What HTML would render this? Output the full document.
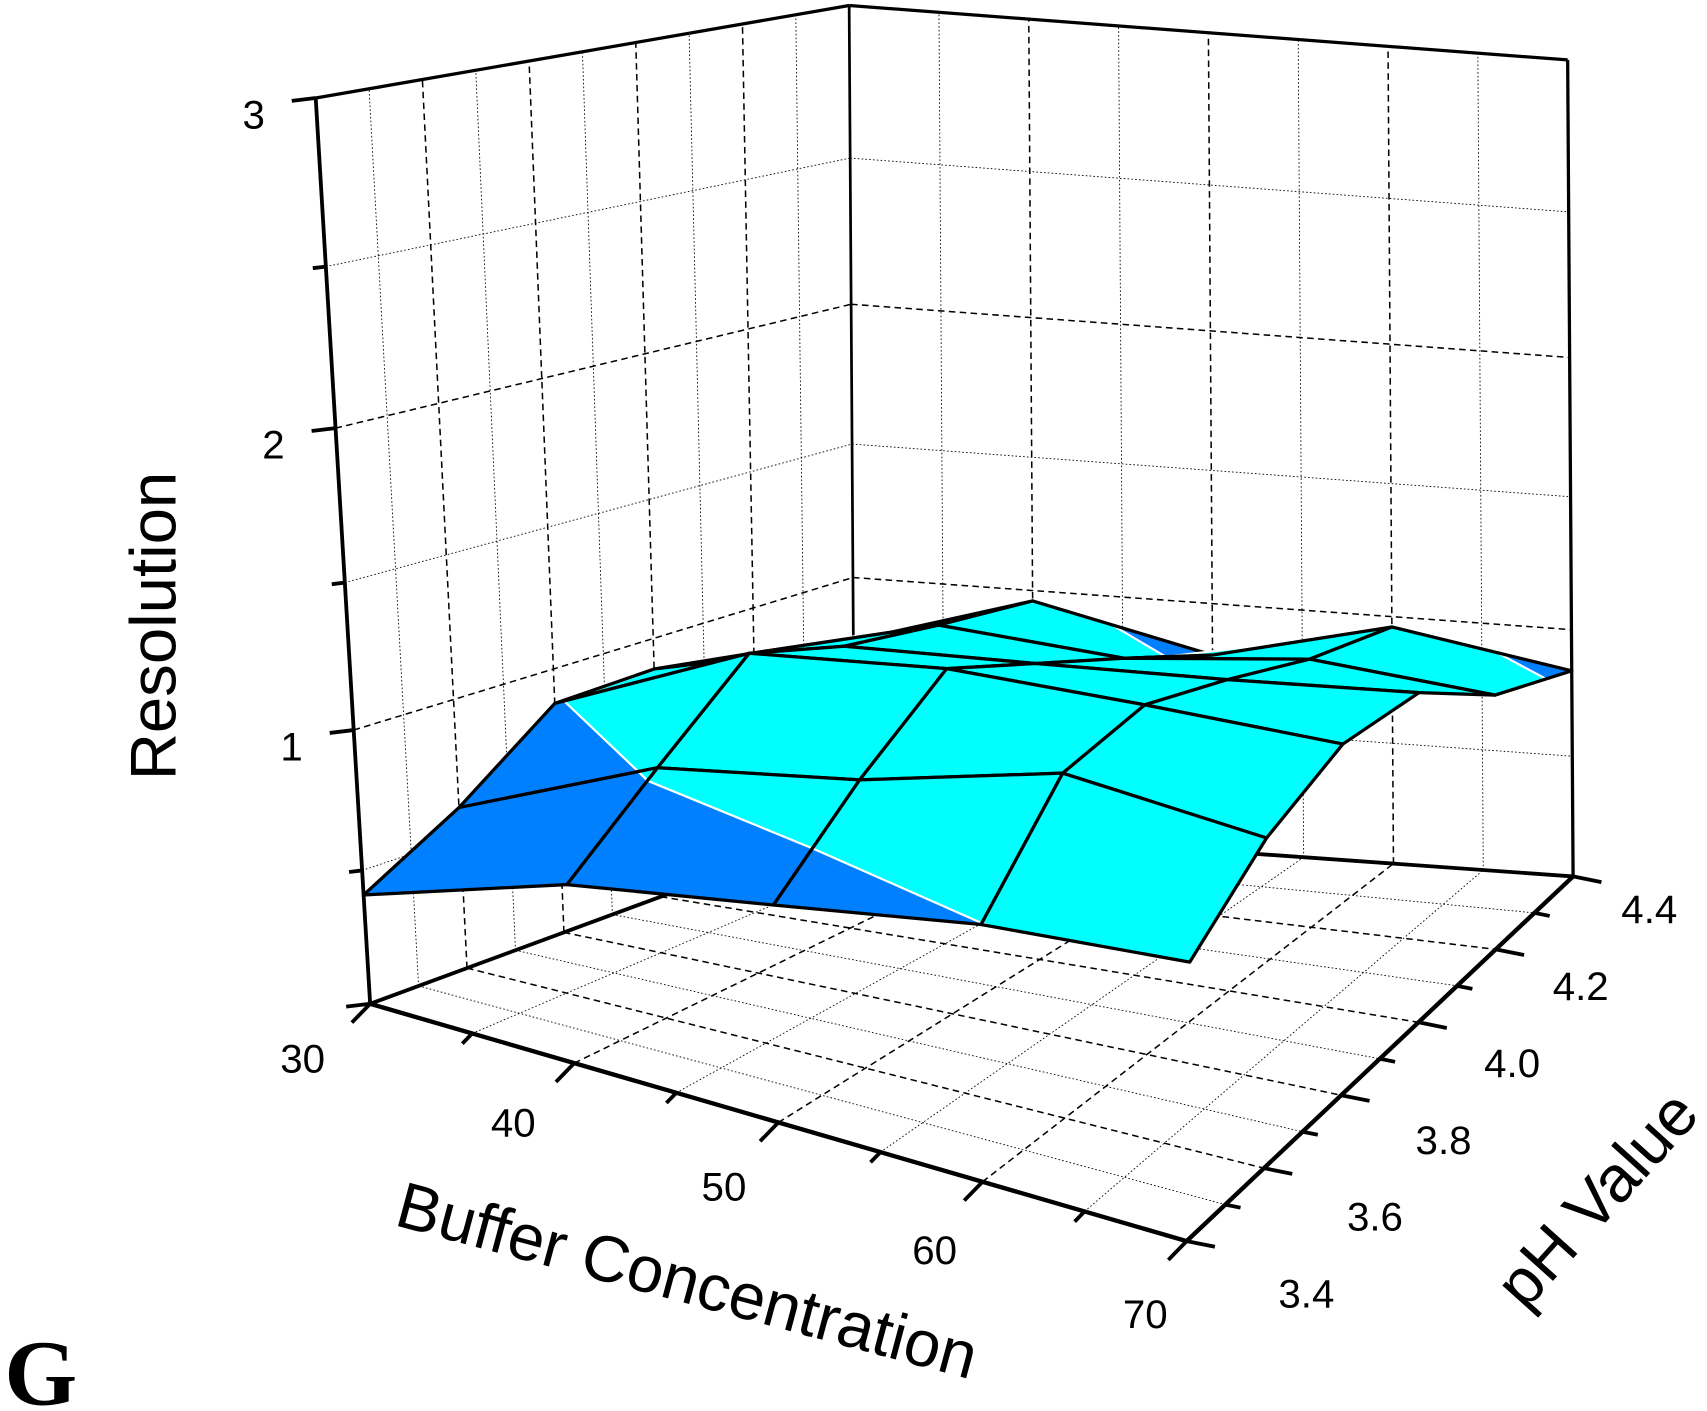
<!DOCTYPE html>
<html><head><meta charset="utf-8"><title>Resolution surface</title>
<style>html,body{margin:0;padding:0;background:#fff;}svg{display:block;}</style></head>
<body>
<svg id="chart" width="1707" height="1411" viewBox="0 0 1568 1296" xmlns="http://www.w3.org/2000/svg" font-family="'Liberation Sans', sans-serif">
<g id="walls"></g>
<g id="surface"></g>
<g id="axes"></g>
<text x="0" y="0" font-size="60" text-anchor="middle" transform="translate(161,575) rotate(-90)">Resolution</text>
<text x="0" y="0" font-size="60" text-anchor="middle" transform="translate(626,1196) rotate(15)">Buffer Concentration</text>
<text x="0" y="0" font-size="60" text-anchor="middle" transform="translate(1482,1115) rotate(-48)">pH Value</text>
<text x="4" y="1290" font-size="86" font-weight="bold" font-family="'Liberation Serif', serif">G</text>
</svg>
<script>
const buffers = [30, 40, 50, 60, 70];
const phValues = [3.4, 3.6, 3.8, 4.0, 4.2, 4.4];
const res30 = [0.41, 0.61, 0.875, 0.887, 0.83, 0.755];
const res40 = [0.65, 0.92, 1.187, 1.078, 1.015, 0.96];
const res50 = [0.77, 1.035, 1.26, 1.12, 0.97, 0.80];
const res60 = [0.887, 1.207, 1.26, 1.165, 1.045, 0.96];
const res70 = [0.94, 1.14, 1.25, 1.22, 0.99, 0.84];
const zTickLabels = ['1', '2', '3'];
const bufferTickLabels = ['30', '40', '50', '60', '70'];
const phTickLabels = ['3.4', '3.6', '3.8', '4.0', '4.2', '4.4'];

const resolution = [res30, res40, res50, res60, res70];
const NS = 'http://www.w3.org/2000/svg';
const C = {FL0:[340,922],FR0:[1090,1140],BR0:[1445,805],BL0:[785,758],
           FL1:[290,90],FR1:[1100,235],BR1:[1440,55],BL1:[780,5]};
const BMIN=30,BMAX=70,PMIN=3.4,PMAX=4.4,ZMAX=3;
function lerp(a,b,t){return [a[0]+(b[0]-a[0])*t,a[1]+(b[1]-a[1])*t];}
function bil(fl,fr,br,bl,u,v){return lerp(lerp(fl,fr,u),lerp(bl,br,u),v);}
function zmap(w){return 0.86*w+0.14*w*w;}
function proj(b,p,z){
  const u=(b-BMIN)/(BMAX-BMIN), v=(p-PMIN)/(PMAX-PMIN), w=zmap(z/ZMAX);
  const f=bil(C.FL0,C.FR0,C.BR0,C.BL0,u,v), t=bil(C.FL1,C.FR1,C.BR1,C.BL1,u,v);
  return lerp(f,t,w);
}
function el(tag,attrs,parent){const e=document.createElementNS(NS,tag);for(const k in attrs)e.setAttribute(k,attrs[k]);parent.appendChild(e);return e;}
function line(parent,a,b,stroke,w,dash,name){
  const e=el('line',{x1:a[0],y1:a[1],x2:b[0],y2:b[1],stroke:stroke,'stroke-width':w},parent);
  if(dash)e.setAttribute('stroke-dasharray',dash);
  
  
  return e;
}
const walls=document.getElementById('walls');
const DASH='6 4', DOT='1.5 2';
for(let i=1;i<10;i++){const p=PMIN+i*0.1;const maj=i%2===0;
  line(walls,proj(BMIN,p,0),proj(BMIN,p,ZMAX),'#000',maj?1.4:0.8,maj?DASH:DOT,'left-wall-grid');}
for(let i=1;i<6;i++){const z=i*0.5;const maj=i%2===0;
  line(walls,proj(BMIN,PMIN,z),proj(BMIN,PMAX,z),'#000',maj?1.4:0.8,maj?DASH:DOT,'left-wall-grid');
  line(walls,proj(BMIN,PMAX,z),proj(BMAX,PMAX,z),'#000',maj?1.4:0.8,maj?DASH:DOT,'right-wall-grid');}
for(let i=1;i<8;i++){const b=BMIN+i*5;const maj=i%2===0;
  line(walls,proj(b,PMAX,0),proj(b,PMAX,ZMAX),'#000',maj?1.4:0.8,maj?DASH:DOT,'right-wall-grid');
  line(walls,proj(b,PMIN,0),proj(b,PMAX,0),'#000',maj?1.4:0.8,maj?DASH:DOT,'floor-grid');}
for(let i=1;i<10;i++){const p=PMIN+i*0.1;const maj=i%2===0;
  line(walls,proj(BMIN,p,0),proj(BMAX,p,0),'#000',maj?1.4:0.8,maj?DASH:DOT,'floor-grid');}
line(walls,proj(BMIN,PMAX,0),proj(BMIN,PMAX,ZMAX),'#000',2.5,null,'back-vertical-edge');
line(walls,proj(BMAX,PMAX,0),proj(BMAX,PMAX,ZMAX),'#000',3,null,'right-vertical-edge');
line(walls,proj(BMIN,PMIN,ZMAX),proj(BMIN,PMAX,ZMAX),'#000',3,null,'top-left-edge');
line(walls,proj(BMIN,PMAX,ZMAX),proj(BMAX,PMAX,ZMAX),'#000',3,null,'top-right-edge');
line(walls,proj(BMIN,PMIN,0),proj(BMIN,PMAX,0),'#000',3.5,null,'floor-left-edge');
line(walls,proj(BMIN,PMAX,0),proj(BMAX,PMAX,0),'#000',3.5,null,'floor-back-edge');

const surf=document.getElementById('surface');
const T=0.89;
function area(pts){let s=0;for(let i=0;i<pts.length;i++){const a=pts[i],b=pts[(i+1)%pts.length];s+=a[0]*b[1]-b[0]*a[1];}return s/2;}
function clip(verts,below){const out=[];const seg=[];
  for(let i=0;i<verts.length;i++){const a=verts[i],b=verts[(i+1)%verts.length];
    const ain=below?a.z<=T:a.z>=T, bin=below?b.z<=T:b.z>=T;
    if(ain)out.push(a.p);
    if(ain!==bin){const t=(T-a.z)/(b.z-a.z);const q=lerp(a.p,b.p,t);out.push(q);seg.push(q);}
  }return {poly:out,seg:seg};}
const refSign=Math.sign(area([proj(30,3.4,res30[0]),proj(40,3.4,res40[0]),proj(40,3.6,res40[1]),proj(30,3.6,res30[1])]));
const cells=[];
for(let i=0;i<buffers.length-1;i++)for(let j=0;j<phValues.length-1;j++)cells.push([i,j]);
cells.sort((a,b)=>((a[0]+(phValues.length-1-a[1]))-(b[0]+(phValues.length-1-b[1]))));
const BLUE='#0080ff', CYAN='#00ffff';
cells.forEach(([i,j])=>{
  const idx=[[i,j],[i+1,j],[i+1,j+1],[i,j+1]];
  const verts=idx.map(([a,b])=>({p:proj(buffers[a],phValues[b],resolution[a][b]),z:resolution[a][b]}));
  const pts=verts.map(v=>v.p);
  const g=el('g',{},surf);
  
  
  const back=Math.sign(area(pts))!==refSign;
  if(back){
    const p=el('polygon',{points:pts.map(q=>q.join(',')).join(' '),fill:BLUE},g);
    
    
  } else {
    const lo=clip(verts,true), hi=clip(verts,false);
    if(lo.poly.length>2){const p=el('polygon',{points:lo.poly.map(q=>q.join(',')).join(' '),fill:BLUE},g);
      
      }
    if(hi.poly.length>2){const p=el('polygon',{points:hi.poly.map(q=>q.join(',')).join(' '),fill:CYAN},g);
      
      }
    if(lo.seg.length===2)line(g,lo.seg[0],lo.seg[1],'#fff',2,null,'contour-line');
  }
  const o=el('polygon',{points:pts.map(q=>q.join(',')).join(' '),fill:'none',stroke:'#000','stroke-width':3,'stroke-linejoin':'round'},g);
  
  
});

const axes=document.getElementById('axes');
line(axes,proj(BMIN,PMIN,0),proj(BMIN,PMIN,ZMAX),'#000',3.5,null,'z-axis-line');
line(axes,proj(BMIN,PMIN,0),proj(BMAX,PMIN,0),'#000',4,null,'x-axis-line');
line(axes,proj(BMAX,PMIN,0),proj(BMAX,PMAX,0),'#000',4,null,'y-axis-line');
for(let i=0;i<=6;i++){const z=i*0.5;const a=proj(BMIN,PMIN,z);const maj=i%2===0;const L=maj?22:12;
  line(axes,a,[a[0]-L,a[1]+L*0.12],'#000',3.5,null,'z-tick');}
zTickLabels.forEach((s,k)=>{const a=proj(BMIN,PMIN,(k+1));
  const t=el('text',{x:a[0]-57,y:a[1]+28,'font-size':37,'text-anchor':'middle'},axes);t.textContent=s;
  
  });
for(let i=0;i<=8;i++){const b=BMIN+i*5;const a=proj(b,PMIN,0);const maj=i%2===0;const L=maj?24:13;
  line(axes,a,[a[0]-L*0.7,a[1]+L*0.72],'#000',3.5,null,'x-tick');}
bufferTickLabels.forEach((s,k)=>{const a=proj(buffers[k],PMIN,0);const f=k/(buffers.length-1);
  const t=el('text',{x:a[0]-62+24*f,y:a[1]+63+17*f,'font-size':37,'text-anchor':'middle'},axes);t.textContent=s;
  
  });
for(let i=0;i<=10;i++){const p=PMIN+i*0.1;const a=proj(BMAX,p,0);const maj=i%2===0;const L=maj?26:14;
  line(axes,a,[a[0]+L,a[1]+L*0.2],'#000',3.5,null,'y-tick');}
phTickLabels.forEach((s,k)=>{const a=proj(BMAX,phValues[k],0);const f=k/(phValues.length-1);
  const t=el('text',{x:a[0]+110-40*f,y:a[1]+61-18*f,'font-size':37,'text-anchor':'middle'},axes);t.textContent=s;
  
  });
</script>
</body></html>
